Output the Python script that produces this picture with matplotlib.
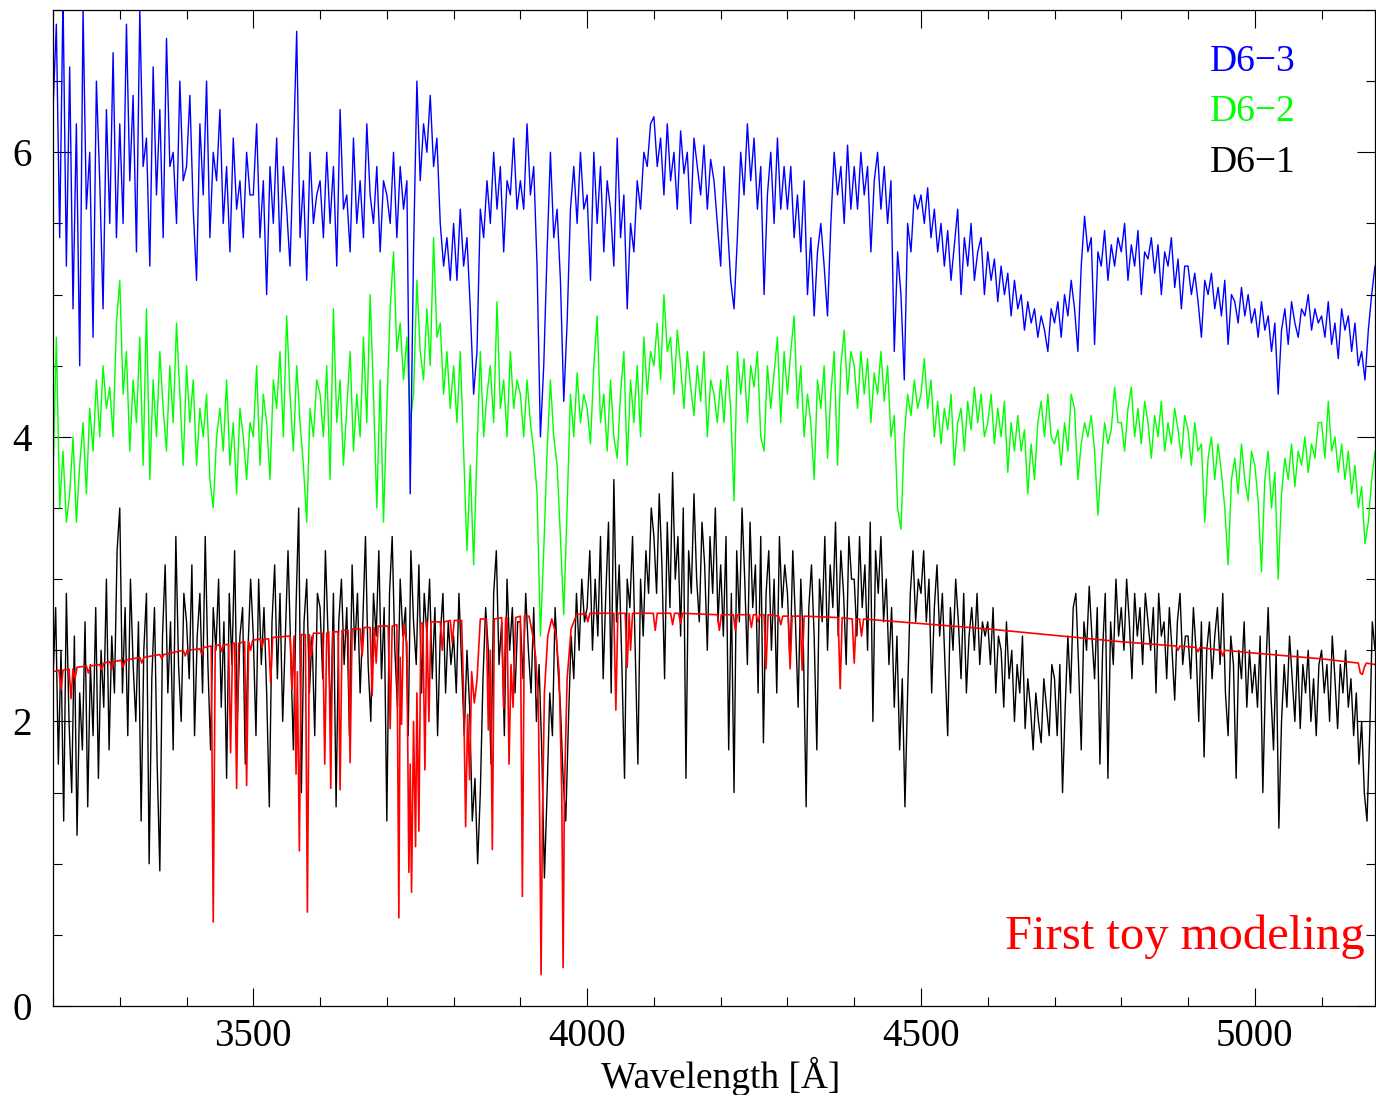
import numpy as np
import matplotlib
matplotlib.use("Agg")
import matplotlib.pyplot as plt
from matplotlib.ticker import MultipleLocator

# D6-3 (blue), sampled every 5 A from 3200 A
d63_flux = [
    6.3, 6.9, 5.4, 7.1, 5.2, 6.6, 4.9, 6.2, 4.5, 7.0, 5.6, 6.0, 4.7, 6.5, 5.8, 4.9, 6.3, 5.5, 6.7, 5.4,
    6.2, 5.5, 6.9, 5.8, 6.4, 5.3, 7.0, 5.9, 6.1, 5.2, 6.6, 5.7, 6.3, 5.4, 6.8, 5.9, 6.0, 5.5, 6.5, 5.8,
    5.9, 6.4, 5.6, 5.1, 6.2, 5.7, 6.5, 5.4, 6.0, 5.8, 6.3, 5.5, 5.9, 5.3, 6.1, 5.6, 5.8, 5.4, 6.0, 5.7,
    5.7, 6.2, 5.4, 5.8, 5.0, 5.9, 5.5, 6.1, 5.3, 5.9, 5.6, 5.2, 6.0, 6.85, 5.4, 5.8, 5.1, 6.0, 5.5, 5.7,
    5.8, 5.4, 6.0, 5.5, 5.9, 5.2, 6.3, 5.6, 5.7, 5.3, 6.1, 5.5, 5.8, 5.4, 6.2, 5.7, 5.5, 5.9, 5.3, 5.8,
    5.7, 5.5, 6.0, 5.4, 5.9, 5.6, 5.8, 3.6, 5.3, 6.5, 5.8, 6.2, 6.0, 6.4, 5.9, 6.1, 5.5, 5.2, 5.4, 5.1,
    5.5, 5.1, 5.6, 5.2, 5.4, 4.9, 4.3, 4.6, 5.6, 5.4, 5.8, 5.5, 6.0, 5.6, 5.9, 5.3, 5.8, 5.7, 6.1, 5.6,
    5.8, 5.6, 6.2, 5.7, 5.9, 5.2, 4.0, 4.5, 5.3, 6.0, 5.4, 5.6, 5.1, 4.25, 4.8, 5.6, 5.9, 5.5, 6.0, 5.6,
    5.7, 5.1, 6.0, 5.5, 5.9, 5.3, 5.8, 5.6, 5.2, 6.1, 5.4, 5.7, 4.9, 5.5, 5.3, 5.8, 5.6, 6.0, 5.9, 6.2,
    6.25, 5.9, 6.1, 5.7, 6.2, 5.8, 6.0, 5.6, 6.15, 5.85, 6.0, 5.5, 6.1, 5.9, 5.7, 6.05, 5.6, 5.95, 5.8, 5.5,
    5.2, 5.9, 5.5, 5.1, 4.9, 5.4, 6.0, 5.7, 6.2, 5.8, 6.1, 5.6, 5.9, 5.0, 5.7, 6.0, 5.5, 6.1, 5.6, 5.9,
    5.6, 5.9, 5.4, 5.7, 5.3, 5.8, 5.0, 5.4, 4.85, 5.3, 5.5, 5.2, 4.85, 5.5, 6.0, 5.7, 5.9, 5.5, 6.05, 5.6,
    5.9, 5.6, 6.0, 5.7, 5.9, 5.3, 5.8, 6.0, 5.6, 5.9, 5.5, 5.8, 4.6, 5.3, 5.0, 4.4, 5.5, 5.3, 5.7, 5.6,
    5.7, 5.5, 5.75, 5.4, 5.6, 5.3, 5.5, 5.2, 5.45, 5.1, 5.35, 5.6, 5.0, 5.4, 5.2, 5.5, 5.1, 5.3, 5.4, 5.0,
    5.3, 5.1, 5.25, 4.95, 5.2, 5.0, 5.15, 4.85, 5.1, 4.9, 5.0, 4.75, 4.95, 4.8, 4.9, 4.7, 4.85, 4.75, 4.6, 4.9,
    4.8, 4.95, 4.7, 5.0, 4.85, 5.1, 4.9, 4.6, 5.2, 5.55, 5.3, 5.4, 4.65, 5.3, 5.2, 5.45, 5.1, 5.35, 5.2, 5.4,
    5.3, 5.5, 5.1, 5.35, 5.2, 5.45, 5.0, 5.3, 5.25, 5.4, 5.15, 5.35, 5.0, 5.3, 5.2, 5.4, 5.05, 5.25, 4.9, 5.2,
    5.2, 5.0, 5.15, 4.95, 4.7, 5.1, 5.0, 5.15, 4.9, 5.05, 4.85, 5.1, 4.65, 5.0, 4.95, 4.8, 5.05, 4.85, 5.0, 4.8,
    4.9, 4.7, 4.95, 4.75, 4.85, 4.6, 4.8, 4.3, 4.75, 4.9, 4.65, 4.95, 4.8, 4.7, 4.9, 4.85, 5.0, 4.75, 4.9, 4.8,
    4.85, 4.7, 4.95, 4.65, 4.8, 4.55, 4.9, 4.75, 4.85, 4.6, 4.8, 4.5, 4.6, 4.4, 4.75, 5.0, 5.2,
]

# D6-2 (green), sampled every 5 A from 3200 A
d62_flux = [
    3.7, 4.7, 3.5, 3.9, 3.4, 3.6, 4.0, 3.4, 3.8, 4.1, 3.6, 4.2, 3.9, 4.4, 4.0, 4.5, 4.2, 4.35, 4.0, 4.8,
    5.1, 4.3, 4.6, 3.9, 4.4, 4.1, 4.7, 3.8, 4.9, 3.7, 4.4, 4.0, 4.6, 4.2, 3.9, 4.5, 4.1, 4.8, 4.3, 3.8,
    4.5, 4.1, 4.4, 3.8, 4.2, 4.0, 4.3, 3.7, 3.5, 4.0, 4.2, 3.9, 4.4, 3.8, 4.1, 3.6, 4.2, 4.0, 3.7, 4.1,
    4.0, 4.5, 3.8, 4.3, 4.1, 3.7, 4.4, 4.2, 4.6, 4.0, 4.85, 4.3, 3.9, 4.5, 4.1, 3.8, 3.4, 4.2, 4.0, 4.4,
    4.3, 4.0, 4.5, 3.7, 4.9, 4.1, 4.4, 3.8, 4.2, 4.6, 3.9, 4.3, 4.0, 4.7, 4.1, 5.0, 4.3, 3.5, 4.4, 3.4,
    4.2, 4.9, 5.3, 4.6, 4.8, 4.4, 4.7, 4.1, 4.3, 5.1, 4.6, 4.4, 4.9, 4.5, 5.4, 4.7, 4.8, 4.3, 4.6, 4.2,
    4.5, 4.1, 4.6, 3.9, 3.2, 3.8, 3.1, 3.9, 4.6, 4.0, 4.3, 4.5, 4.1, 4.95, 4.2, 4.4, 4.0, 4.6, 4.2, 4.4,
    4.3, 4.0, 4.4, 4.1, 3.9, 3.6, 2.6, 3.2, 3.9, 4.4, 4.0, 3.8, 3.3, 2.75, 3.5, 4.3, 4.0, 4.45, 4.1, 4.3,
    4.2, 3.95, 4.5, 4.85, 4.1, 4.3, 3.9, 4.4, 4.0, 3.85, 4.3, 4.6, 3.8, 4.4, 4.1, 4.5, 4.0, 4.7, 4.3, 4.6,
    4.5, 4.8, 4.4, 5.0, 4.6, 4.7, 4.3, 4.75, 4.5, 4.2, 4.6, 4.35, 4.15, 4.5, 4.25, 4.6, 4.0, 4.4, 4.3, 4.1,
    4.4, 4.1, 4.5, 4.2, 3.55, 4.6, 4.3, 4.55, 4.1, 4.5, 4.35, 4.6, 4.0, 3.9, 4.5, 4.2, 4.45, 4.7, 4.1, 4.6,
    4.3, 4.6, 4.85, 4.2, 4.5, 4.0, 4.3, 4.1, 3.7, 4.4, 4.2, 4.5, 3.85, 4.3, 4.6, 3.8, 4.5, 4.75, 4.3, 4.6,
    4.5, 4.2, 4.6, 4.3, 4.55, 4.1, 4.45, 4.3, 4.6, 4.25, 4.5, 4.0, 4.15, 3.5, 3.35, 4.0, 4.3, 4.15, 4.4, 4.2,
    4.3, 4.55, 4.2, 4.4, 4.0, 4.25, 3.95, 4.2, 4.05, 4.3, 3.8, 4.1, 4.2, 3.9, 4.25, 4.05, 4.35, 4.1, 4.3, 4.0,
    4.1, 4.3, 3.95, 4.2, 4.0, 4.25, 3.75, 4.1, 3.9, 4.15, 3.9, 4.05, 3.6, 3.95, 3.7, 4.1, 4.25, 4.0, 4.3, 4.0,
    3.95, 4.05, 3.8, 4.1, 3.9, 4.3, 4.2, 3.7, 3.95, 4.1, 4.0, 4.15, 3.9, 3.45, 3.8, 4.1, 3.95, 4.05, 4.35, 4.1,
    4.1, 3.9, 4.2, 4.35, 4.0, 4.2, 3.95, 4.25, 4.1, 3.85, 4.15, 4.0, 4.25, 3.9, 4.1, 3.95, 4.2, 4.05, 3.85, 4.15,
    4.05, 3.8, 4.1, 3.9, 3.95, 3.4, 3.85, 4.0, 3.7, 3.95, 3.75, 3.5, 3.1, 3.7, 3.85, 3.6, 3.95, 3.7, 3.55, 3.9,
    3.8, 3.55, 3.05, 3.7, 3.9, 3.5, 3.75, 3.0, 3.6, 3.85, 3.7, 3.95, 3.65, 3.9, 3.8, 4.0, 3.75, 3.95, 3.85, 4.1,
    4.1, 3.85, 4.25, 3.9, 4.0, 3.75, 3.95, 3.7, 3.9, 3.6, 3.8, 3.5, 3.65, 3.25, 3.4, 3.7, 3.9,
]

# D6-1 (black), sampled every 4 A from 3200 A
d61_flux = [
    2.3, 2.8, 1.7, 2.5, 1.3, 2.9, 2.0, 1.5, 2.6, 1.2, 2.2, 1.8, 2.7, 1.4, 2.4, 1.9, 2.8, 1.6, 2.5, 2.1, 3.0, 1.8, 2.6, 2.2, 3.2,
    3.5, 2.2, 2.8, 1.9, 3.0, 2.4, 2.0, 2.7, 1.3, 2.5, 2.9, 1.0, 2.3, 2.8, 1.7, 0.95, 2.6, 3.1, 2.2, 2.7, 1.8, 3.3, 2.4, 2.0, 2.9,
    2.7, 2.3, 3.1, 1.9, 2.6, 2.9, 2.2, 3.3, 2.4, 1.8, 2.8, 2.5, 3.0, 2.1, 2.7, 1.6, 2.9, 2.4, 3.2, 2.0, 2.6, 2.8, 1.7, 2.5, 3.0,
    2.6, 1.9, 3.0, 2.4, 2.8, 2.2, 1.4, 2.7, 3.1, 2.3, 2.9, 2.0, 2.6, 3.2, 2.5, 1.8, 2.8, 3.5, 1.5, 2.7, 3.0, 2.2, 2.6, 1.9, 2.9,
    2.8, 2.3, 3.2, 2.6, 2.0, 2.9, 1.4, 2.7, 3.0, 2.4, 2.8, 1.9, 3.1, 2.5, 2.9, 2.2, 2.7, 3.3, 2.4, 2.0, 2.9, 2.6, 3.2, 2.3, 2.8,
    1.3, 2.9, 3.3, 2.5, 2.1, 3.0, 2.6, 2.8, 1.9, 3.2, 2.7, 2.4, 3.1, 2.2, 2.9, 2.6, 3.0, 2.3, 2.8, 1.9, 2.6, 2.9, 2.2, 2.7, 2.4,
    2.6, 2.2, 2.9, 2.4, 1.9, 2.5, 2.1, 1.3, 1.6, 1.0, 1.5, 2.3, 2.8, 2.5, 1.7, 2.9, 3.2, 2.4, 2.7, 1.9, 3.0, 2.5, 2.8, 2.2, 2.7,
    2.7, 2.3, 2.9, 2.5, 2.2, 2.8, 2.0, 2.4, 1.8, 0.9, 1.5, 2.2, 1.9, 2.8, 2.4, 2.1, 1.6, 1.3, 2.0, 2.6, 2.3, 2.9, 2.5, 3.0, 2.7,
    2.8, 3.2, 2.5, 3.0, 2.6, 3.3, 2.3, 2.9, 3.4, 2.2, 3.7, 2.7, 3.1, 2.4, 1.6, 3.0, 2.8, 3.3, 2.5, 1.7, 3.0, 2.6, 3.2, 2.9, 3.5,
    3.3, 2.9, 3.6, 3.1, 2.3, 3.4, 2.8, 3.75, 3.0, 3.3, 2.6, 3.5, 1.6, 3.2, 2.9, 3.6, 3.0, 2.7, 3.4, 3.1, 2.5, 3.3, 2.9, 3.5, 2.7,
    3.1, 2.6, 3.3, 1.8, 2.9, 1.5, 3.2, 2.7, 3.5, 3.0, 2.4, 3.4, 2.8, 3.1, 2.2, 3.3, 1.85, 2.9, 3.2, 2.5, 3.0, 2.2, 3.3, 2.8, 3.1,
    2.9, 2.4, 3.2, 2.7, 2.1, 3.0, 2.5, 1.4, 2.8, 3.1, 2.6, 1.8, 3.0, 2.7, 3.3, 2.5, 3.1, 2.8, 3.4, 2.6, 3.2, 2.9, 2.4, 3.3, 3.0,
    3.0, 2.6, 3.3, 2.8, 3.1, 2.5, 3.4, 2.0, 3.2, 2.9, 3.3, 2.7, 3.0, 2.4, 2.8, 2.1, 2.6, 1.8, 2.3, 1.4, 2.2, 2.9, 3.2, 2.7, 3.0,
    2.9, 3.2, 2.7, 3.0, 2.2, 2.8, 3.1, 2.6, 2.9, 2.4, 1.9, 2.8, 2.5, 3.0, 2.7, 2.3, 2.9, 2.2, 2.6, 2.8, 2.5, 2.9, 2.4, 2.7, 2.6,
    2.7, 2.4, 2.8, 2.2, 2.6, 2.5, 2.1, 2.7, 2.3, 2.5, 2.0, 2.4, 2.2, 2.6, 1.95, 2.3, 2.1, 1.8, 2.2, 2.0, 1.85, 2.3, 2.1, 1.9, 2.4,
    2.3, 1.9, 2.4, 1.5, 2.1, 2.6, 2.2, 2.8, 2.9, 2.4, 1.8, 2.7, 2.5, 2.95, 2.6, 2.3, 2.8, 1.7, 2.5, 2.9, 1.6, 2.7, 2.4, 3.0, 2.6,
    2.8, 2.5, 3.0, 2.7, 2.3, 2.9, 2.6, 2.8, 2.4, 2.9, 2.7, 2.5, 2.8, 2.2, 2.9, 2.6, 2.7, 2.3, 2.8, 2.5, 2.15, 2.7, 2.9, 2.4, 2.6,
    2.6, 2.3, 2.8, 2.5, 2.0, 2.7, 1.75, 2.5, 2.7, 2.3, 2.6, 2.8, 2.4, 2.9, 2.2, 1.9, 2.6, 2.4, 1.6, 2.5, 2.3, 2.7, 2.1, 2.5, 2.2,
    2.4, 2.1, 2.6, 1.5, 2.3, 2.8, 2.2, 1.8, 2.5, 1.25, 2.0, 2.4, 2.1, 2.6, 2.3, 2.0, 2.5, 1.95, 2.4, 2.2, 2.5, 2.0, 2.3, 1.9, 2.4,
    2.5, 2.2, 2.4, 2.0, 2.6, 2.3, 1.95, 2.4, 2.2, 2.5, 2.1, 2.3, 1.9, 2.2, 1.7, 2.0, 1.5, 1.3, 1.9, 2.7, 2.5,
]

# toy model (red): wavelength / flux pairs
model_points = [
    (3200, 2.35), (3209, 2.36), (3212, 2.22), (3215, 2.36), (3224, 2.37), (3227, 2.16), (3230, 2.37),
    (3233, 2.30), (3236, 2.38), (3250, 2.39), (3253, 2.34), (3256, 2.39), (3270, 2.40), (3273, 2.36),
    (3276, 2.41), (3285, 2.42), (3288, 2.37), (3291, 2.42), (3302, 2.43), (3305, 2.38), (3308, 2.43),
    (3330, 2.45), (3333, 2.41), (3336, 2.45), (3360, 2.47), (3363, 2.44), (3366, 2.47), (3395, 2.50),
    (3398, 2.46), (3401, 2.50), (3420, 2.51), (3423, 2.47), (3426, 2.52), (3437, 2.53), (3440, 0.59),
    (3443, 2.53), (3450, 2.54), (3453, 2.49), (3456, 2.54), (3463, 2.54), (3466, 1.78), (3469, 2.55),
    (3472, 2.55), (3475, 1.53), (3478, 2.55), (3487, 2.56), (3490, 1.55), (3493, 2.56), (3496, 2.50),
    (3499, 2.57), (3510, 2.58), (3513, 2.52), (3516, 2.58), (3523, 2.58), (3526, 2.27), (3529, 2.59),
    (3555, 2.60), (3558, 2.22), (3561, 2.60), (3564, 1.63), (3566, 2.35), (3569, 1.09), (3572, 2.61),
    (3578, 2.61), (3581, 0.66), (3584, 2.61), (3587, 2.46), (3590, 2.62), (3604, 2.62), (3607, 1.70),
    (3610, 2.62), (3613, 2.63), (3616, 1.53), (3619, 2.63), (3627, 2.63), (3630, 1.52), (3633, 2.64),
    (3642, 2.64), (3645, 1.71), (3648, 2.65), (3660, 2.65), (3663, 2.46), (3666, 2.66), (3675, 2.66),
    (3678, 2.18), (3681, 2.66), (3684, 2.41), (3687, 2.67), (3702, 2.67), (3705, 1.95), (3708, 2.67),
    (3715, 2.68), (3718, 0.62), (3720, 2.45), (3722, 1.98), (3725, 2.68), (3730, 2.55), (3733, 0.94),
    (3735, 1.70), (3737, 0.80), (3740, 2.00), (3743, 1.12), (3745, 2.20), (3748, 1.23), (3751, 2.69),
    (3754, 2.69), (3757, 1.66), (3760, 2.70), (3763, 2.00), (3766, 2.70), (3780, 2.70), (3783, 2.50),
    (3786, 2.70), (3795, 2.71), (3798, 2.55), (3801, 2.71), (3812, 2.71), (3815, 2.20), (3818, 1.26),
    (3821, 2.05), (3824, 1.59), (3827, 2.35), (3831, 2.13), (3835, 2.29), (3840, 2.72), (3849, 2.72),
    (3852, 1.94), (3855, 2.50), (3858, 1.10), (3861, 2.72), (3872, 2.73), (3875, 2.09), (3878, 2.73),
    (3880, 2.73), (3883, 1.70), (3886, 2.40), (3889, 2.10), (3893, 2.73), (3900, 2.74), (3903, 0.77),
    (3906, 2.74), (3913, 2.74), (3918, 2.62), (3923, 2.45), (3927, 2.10), (3929, 1.30), (3931, 0.22),
    (3933, 1.30), (3936, 2.20), (3941, 2.60), (3947, 2.72), (3953, 2.62), (3958, 2.35), (3962, 1.50),
    (3964, 0.27), (3966, 1.50), (3970, 2.30), (3976, 2.65), (3984, 2.75), (3998, 2.76), (4001, 2.70),
    (4004, 2.76), (4040, 2.76), (4043, 2.08), (4046, 2.76), (4057, 2.76), (4060, 2.38), (4063, 2.76),
    (4065, 2.50), (4068, 2.76), (4099, 2.76), (4102, 2.64), (4105, 2.76), (4125, 2.76), (4128, 2.68),
    (4131, 2.76), (4137, 2.76), (4140, 2.69), (4143, 2.76), (4195, 2.75), (4198, 2.64), (4201, 2.75),
    (4219, 2.75), (4222, 2.64), (4225, 2.75), (4243, 2.75), (4246, 2.66), (4249, 2.75), (4253, 2.75),
    (4256, 2.70), (4259, 2.75), (4265, 2.75), (4268, 2.37), (4271, 2.75), (4287, 2.74), (4290, 2.68),
    (4293, 2.74), (4301, 2.74), (4304, 2.37), (4307, 2.74), (4319, 2.74), (4322, 2.36), (4325, 2.74),
    (4376, 2.73), (4379, 2.23), (4382, 2.73), (4397, 2.72), (4400, 2.41), (4403, 2.72), (4408, 2.72),
    (4411, 2.60), (4414, 2.72), (4600, 2.65), (4800, 2.56), (4882, 2.53), (4885, 2.50), (4888, 2.53),
    (4912, 2.52), (4915, 2.49), (4918, 2.52), (4949, 2.50), (4952, 2.46), (4955, 2.50), (5000, 2.48),
    (5100, 2.44), (5155, 2.41), (5158, 2.34), (5161, 2.33), (5164, 2.38), (5167, 2.41), (5180, 2.40),
]

labels = ["D6\u22123", "D6\u22122", "D6\u22121"]
colors = ["#0000ff", "#00ff00", "#000000"]

wave5 = 3200 + 5 * np.arange(len(d63_flux))
wave5g = 3200 + 5 * np.arange(len(d62_flux))
wave4 = 3200 + 4 * np.arange(len(d61_flux))
model_wave = [p[0] for p in model_points]
model_flux = [p[1] for p in model_points]

serif = ["Liberation Serif", "DejaVu Serif"]

fig = plt.figure(figsize=(13.76, 10.95), dpi=100)
ax = fig.add_axes([53 / 1376, 89 / 1095, 1322 / 1376, 996 / 1095])

ax.plot(wave4, d61_flux, color="black", lw=1.0)
ax.plot(model_wave, model_flux, color="#ff0000", lw=1.2)
ax.plot(wave5g, d62_flux, color="#00ff00", lw=1.0)
ax.plot(wave5, d63_flux, color="#0000ff", lw=1.0)

ax.set_xlim(3200, 5180)
ax.set_ylim(0, 7)
ax.xaxis.set_major_locator(MultipleLocator(500))
ax.xaxis.set_minor_locator(MultipleLocator(100))
ax.yaxis.set_major_locator(MultipleLocator(2))
ax.yaxis.set_minor_locator(MultipleLocator(0.5))
ax.tick_params(which="both", direction="in", top=True, right=True, width=0.8)
ax.tick_params(which="major", length=13)
ax.tick_params(which="minor", length=6.5)
ax.tick_params(axis="x", which="major", pad=9)
ax.tick_params(axis="y", which="major", pad=15)
for lab in ax.get_xticklabels() + ax.get_yticklabels():
    lab.set_family(serif)
    lab.set_fontsize(28)
for s in ax.spines.values():
    s.set_linewidth(0.9)

# x-axis title placed directly under the tick labels
fig.text(721 / 1376, 1 - 1076 / 1095, "Wavelength [\u00c5]", family=serif,
         fontsize=27, ha="center", va="center")

for i, (lab, c) in enumerate(zip(labels, colors)):
    ax.text(0.875, 0.948 - 0.0505 * i, lab, color=c, transform=ax.transAxes,
            family=serif, fontsize=27, ha="left", va="center")

ax.text(0.992, 0.07, "First toy modeling", color="#ff0000", transform=ax.transAxes,
        family=serif, fontsize=35, ha="right", va="center")

fig.savefig("out.png", dpi=100)
